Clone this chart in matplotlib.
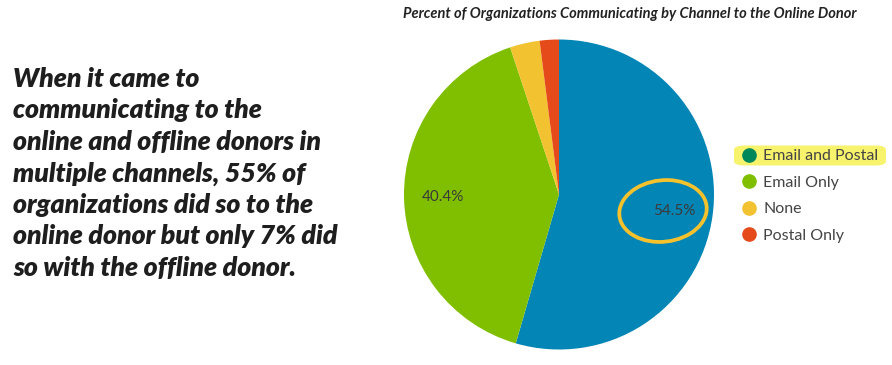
import matplotlib
matplotlib.use("Agg")
import matplotlib.pyplot as plt
from matplotlib.lines import Line2D
from matplotlib.patches import Ellipse, FancyBboxPatch

plt.rcParams["font.family"] = ["Lato", "DejaVu Sans"]

# data
channels = ["Email and Postal", "Email Only", "None", "Postal Only"]
shares = [54.5, 40.4, 3.1, 2.0]
slice_colors = ["#0385B5", "#80BF00", "#F2C230", "#E44A1A"]
legend_colors = ["#00875A", "#80BF00", "#F2C230", "#E44A1A"]
title = "Percent of Organizations Communicating by Channel to the Online Donor"
side_note = ("When it came to\n"
             "communicating to the\n"
             "online and offline donors in\n"
             "multiple channels, 55% of\n"
             "organizations did so to the\n"
             "online donor but only 7% did\n"
             "so with the offline donor.")

fig = plt.figure(figsize=(8.92, 3.65), dpi=100)

# pie axes: centre ~ (559, 194.5) px, radius ~155 px
W, H = 892, 365
cx, cy, r = 559, 194.5, 155
ax = fig.add_axes([(cx - r) / W, (H - cy - r) / H, 2 * r / W, 2 * r / H])

wedges, texts, autotexts = ax.pie(
    shares,
    colors=slice_colors,
    startangle=90,
    counterclock=False,
    autopct=lambda p: f"{p:.1f}%" if p > 10 else "",
    pctdistance=0.75,
    textprops=dict(color="#3a3a3a", fontsize=11),
    wedgeprops=dict(linewidth=0),
)
ax.set_xlim(-1, 1)
ax.set_ylim(-1, 1)
ax.set_aspect("auto")
ax.axis("off")

fig.text(630 / W, 1 - 14 / H, title, ha="center", va="center",
         fontsize=10.5, fontweight="bold", style="italic", color="#222222")

fig.text(13 / W, 1 - 67 / H, side_note, ha="left", va="top",
         fontsize=19.2, fontweight="heavy", style="italic", color="#1e1e1e",
         linespacing=1.37)

# hand-drawn style highlight around the 54.5% label
fig.add_artist(Ellipse((663 / W, 1 - 211 / H), 87 / W, 62 / H, angle=-4,
                       transform=fig.transFigure, fill=False,
                       edgecolor="#F5C22E", linewidth=2.7))

# highlight behind the first legend entry
fig.add_artist(FancyBboxPatch((734 / W, 1 - 165.5 / H), 152 / W, 20 / H,
                              boxstyle="round,pad=0,rounding_size=0.012",
                              transform=fig.transFigure,
                              facecolor="#F8F36C", edgecolor="none", zorder=0))

handles = [Line2D([], [], marker="o", linestyle="none", markersize=9.5,
                  markerfacecolor=c, markeredgecolor=c) for c in legend_colors]
fig.legend(handles, channels, loc="upper left",
           bbox_to_anchor=(733 / W, 1 - 141 / H), frameon=False,
           fontsize=11.5, labelspacing=0.78, handlelength=0.95,
           handletextpad=0.45, borderpad=0, labelcolor="#444444")

fig.savefig("out.png", dpi=100)
